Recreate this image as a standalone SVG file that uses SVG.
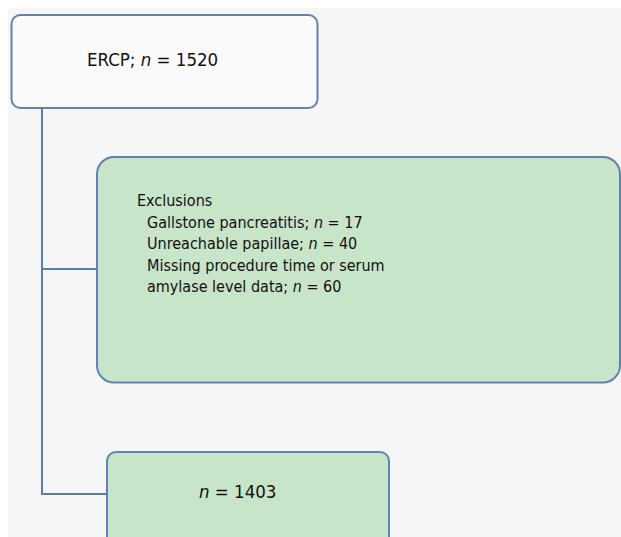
<svg xmlns="http://www.w3.org/2000/svg" width="621" height="537" viewBox="0 0 621 537">
  <style>
    .box { stroke: #5f82b3; stroke-width: 2; }
    .plain { fill: #fafafa; }
    .green { fill: #c8e4c9; }
    .conn { fill: none; stroke: #5a7db0; stroke-width: 2; }
    text { font-family: "DejaVu Sans Condensed", "DejaVu Sans", sans-serif; font-stretch: condensed; font-size: 16px; fill: #111; }
    .big { font-size: 18.5px; }
    .it { font-style: italic; }
  </style>
  <rect x="0" y="0" width="621" height="537" fill="#ffffff"/>
  <rect x="8" y="8" width="613" height="529" fill="#f6f6f6"/>
  <g id="connectors">
    <path class="conn" d="M42 108 V494 H107"/>
    <path class="conn" d="M42 269 H97"/>
  </g>
  <g id="node-ercp">
    <rect class="box plain" x="11.5" y="15" width="306" height="93" rx="9"/>
    <text class="big" x="87" y="66">ERCP; <tspan class="it">n</tspan> = 1520</text>
  </g>
  <g id="node-exclusions">
    <rect class="box green" x="97" y="157" width="523" height="225.5" rx="17"/>
    <text x="137" y="206">Exclusions</text>
    <text x="147" y="227.5">Gallstone pancreatitis; <tspan class="it">n</tspan> = 17</text>
    <text x="147" y="249">Unreachable papillae; <tspan class="it">n</tspan> = 40</text>
    <text x="147" y="270.5">Missing procedure time or serum</text>
    <text x="147" y="292">amylase level data; <tspan class="it">n</tspan> = 60</text>
  </g>
  <g id="node-result">
    <rect class="box green" x="107" y="452" width="282" height="100" rx="9"/>
    <text class="big" x="199" y="498"><tspan class="it">n</tspan> = 1403</text>
  </g>
</svg>
